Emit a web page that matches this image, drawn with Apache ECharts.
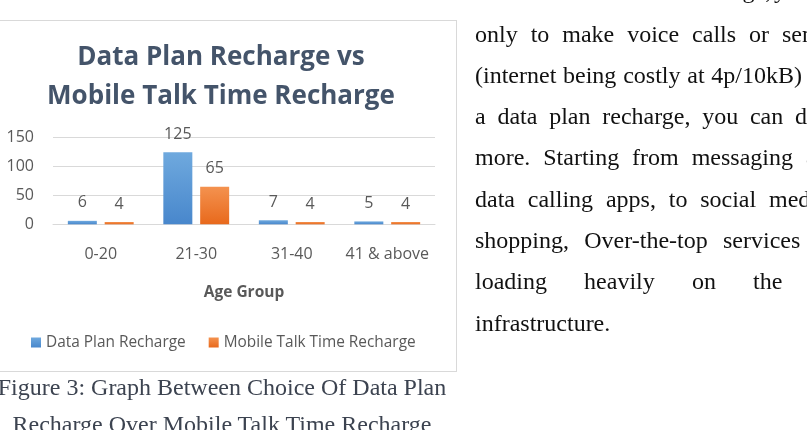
<!DOCTYPE html>
<html><head><meta charset="utf-8">
<script src="https://cdn.jsdelivr.net/npm/echarts@6/dist/echarts.min.js"></script>
<style>
html,body{margin:0;padding:0;background:#fff;}
body{width:807px;height:430px;overflow:hidden;position:relative;}
#box{position:absolute;left:-20px;top:20px;width:475px;height:350px;border:1px solid #d9d9d9;}
#chart{position:absolute;left:0;top:0;width:807px;height:430px;}
.w{position:absolute;font-family:"Liberation Serif","Times New Roman",serif;font-size:24px;line-height:24px;white-space:nowrap;color:#111;}
.cap{position:absolute;left:-28px;width:500px;text-align:center;font-family:"Liberation Serif","Times New Roman",serif;font-size:24px;line-height:24px;white-space:nowrap;color:#3c4350;}
</style></head>
<body>
<div id="box"></div>
<div id="chart"></div>
<div id="doc"></div>
<script>
// ---- chart data ----
const categories = ['0-20', '21-30', '31-40', '41 & above'];
const dataPlanRecharge = [6, 125, 7, 5];
const talkTimeRecharge = [4, 65, 4, 4];
const seriesNames = ['Data Plan Recharge', 'Mobile Talk Time Recharge'];
const yTickLabels = [0, 50, 100, 150];
const chartTitle = 'Data Plan Recharge vs\nMobile Talk Time Recharge';
const xAxisTitle = 'Age Group';
const captionLines = ['Figure 3: Graph Between Choice Of Data Plan', 'Recharge Over Mobile Talk Time Recharge'];

// ---- surrounding document text (justified lines; layout only) ----
const docLines = [
  {b: -2, words: ['recharge,', 'you', 'can'], anchor: {i: 1, x: 774}, start: 683},
  {b: 41.5, words: ['only', 'to', 'make', 'voice', 'calls', 'or', 'send'], anchor: {i: 6, x: 782}},
  {b: 82.8, words: ['(internet', 'being', 'costly', 'at', '4p/10kB)'], anchor: {i: 4, x: 802, end: true}},
  {b: 124.1, words: ['a', 'data', 'plan', 'recharge,', 'you', 'can', 'do'], anchor: {i: 6, x: 795}},
  {b: 165.4, words: ['more.', 'Starting', 'from', 'messaging', 'apps'], anchor: {i: 3, x: 793, end: true}},
  {b: 206.7, words: ['data', 'calling', 'apps,', 'to', 'social', 'media,'], anchor: {i: 5, x: 769}},
  {b: 248, words: ['shopping,', 'Over-the-top', 'services', 'are'], anchor: {i: 2, x: 723}},
  {b: 289.3, words: ['loading', 'heavily', 'on', 'the', 'telecom'], anchor: {i: 3, x: 753}},
  {b: 330.6, words: ['infrastructure.'], anchor: null}
];
const ctx = document.createElement('canvas').getContext('2d');
ctx.font = '24px "Liberation Serif"';
const doc = document.getElementById('doc');
docLines.forEach(l => {
  const x0 = l.start || 475;
  const wd = l.words.map(t => ctx.measureText(t).width);
  let gap = 6;
  if (l.anchor) {
    const a = l.anchor;
    let sum = 0;
    for (let k = 0; k < a.i; k++) sum += wd[k];
    if (a.end) sum += wd[a.i];
    gap = (a.x - x0 - sum) / a.i;
  }
  let x = x0;
  l.words.forEach((t, k) => {
    const s = document.createElement('div');
    s.className = 'w'; s.textContent = t;
    s.style.left = x + 'px'; s.style.top = (l.b - 20) + 'px';
    doc.appendChild(s);
    x += wd[k] + gap;
  });
});
[395, 432].forEach((b, i) => {
  const c = document.createElement('div');
  c.className = 'cap'; c.textContent = captionLines[i];
  c.style.top = (b - 20) + 'px';
  doc.appendChild(c);
});

const chart = echarts.init(document.getElementById('chart'), null, {renderer: 'canvas'});
const font = '"Open Sans", "Noto Sans", sans-serif';
const blue = new echarts.graphic.LinearGradient(0, 0, 0, 1, [{offset: 0, color: '#6fa9de'}, {offset: 1, color: '#4887cc'}]);
const orange = new echarts.graphic.LinearGradient(0, 0, 0, 1, [{offset: 0, color: '#f4924f'}, {offset: 1, color: '#e8691c'}]);
const labelStyle = {show: true, position: 'top', distance: 10, color: '#595959', fontSize: 16, fontFamily: font};
chart.setOption({
  animation: false,
  title: {
    text: chartTitle, left: 221, top: 38, padding: 0, textAlign: 'center',
    textStyle: {fontFamily: font, fontWeight: 'bold', fontSize: 26, lineHeight: 39, color: '#44546a'}
  },
  legend: {
    data: seriesNames, left: 31, top: 335, itemWidth: 10, itemHeight: 10, itemGap: 23, padding: 0,
    icon: 'rect', textStyle: {fontFamily: font, fontSize: 15.4, color: '#595959'}
  },
  grid: {left: 53, top: 137.7, width: 382, height: 86.6, containLabel: false},
  xAxis: {
    type: 'category', data: categories,
    axisLine: {show: true, lineStyle: {color: '#d9d9d9', width: 1}},
    axisTick: {show: false},
    axisLabel: {interval: 0, margin: 22, fontFamily: font, fontSize: 16, color: '#595959'},
    name: xAxisTitle, nameLocation: 'middle', nameGap: 60,
    nameTextStyle: {fontFamily: font, fontSize: 15.5, fontWeight: 'bold', color: '#595959'}
  },
  yAxis: {
    type: 'value', min: yTickLabels[0], max: yTickLabels[yTickLabels.length - 1], interval: yTickLabels[1] - yTickLabels[0],
    axisLine: {show: false}, axisTick: {show: false},
    splitLine: {lineStyle: {color: '#d9d9d9', width: 1}},
    axisLabel: {margin: 19, fontFamily: font, fontSize: 16, color: '#595959'}
  },
  series: [
    {name: seriesNames[0], type: 'bar', data: dataPlanRecharge, barWidth: 29, barGap: '27%',
     itemStyle: {color: blue}, label: labelStyle},
    {name: seriesNames[1], type: 'bar', data: talkTimeRecharge, barWidth: 29, barGap: '27%',
     itemStyle: {color: orange}, label: labelStyle}
  ]
});
</script>
</body></html>
